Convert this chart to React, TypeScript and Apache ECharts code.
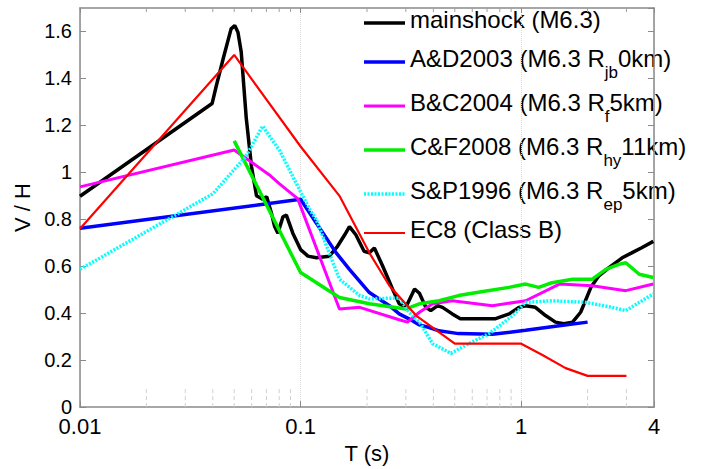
import React, { useEffect, useRef } from "react";
import * as echarts from "echarts";

// ---- data (period T in s, V/H ratio) ----
const mainshock: [number, number][] = [
  [0.01, 0.898], [0.0397, 1.293], [0.0416, 1.373], [0.0446, 1.485], [0.0484, 1.611],
  [0.0503, 1.625], [0.052, 1.597], [0.0538, 1.513], [0.0567, 1.232], [0.0599, 1.025],
  [0.0631, 0.9], [0.0673, 0.885], [0.0702, 0.896], [0.0738, 0.825], [0.0762, 0.77],
  [0.0789, 0.741], [0.0832, 0.811], [0.0862, 0.818], [0.0922, 0.741], [0.1, 0.671],
  [0.108, 0.643], [0.118, 0.636], [0.135, 0.643], [0.147, 0.685], [0.1585, 0.734],
  [0.1665, 0.769], [0.178, 0.734], [0.194, 0.664], [0.205, 0.657], [0.216, 0.678],
  [0.2355, 0.601], [0.261, 0.503], [0.28, 0.44], [0.3, 0.425], [0.3286, 0.503],
  [0.3457, 0.485], [0.3695, 0.425], [0.389, 0.411], [0.418, 0.432], [0.44, 0.425],
  [0.487, 0.397], [0.53, 0.376], [0.62, 0.376], [0.76, 0.376], [0.882, 0.397],
  [0.979, 0.425], [1.047, 0.432], [1.16, 0.425], [1.29, 0.39], [1.43, 0.362],
  [1.56, 0.355], [1.71, 0.362], [1.86, 0.404], [2.07, 0.51], [2.25, 0.559],
  [2.5, 0.594], [2.87, 0.636], [3.17, 0.657], [3.5, 0.678], [3.97, 0.706],
];
const ad2003: [number, number][] = [
  [0.01, 0.762], [0.1, 0.885], [0.118, 0.783], [0.145, 0.657], [0.1665, 0.587],
  [0.205, 0.488], [0.2527, 0.432], [0.28, 0.397], [0.31, 0.376], [0.3457, 0.35],
  [0.383, 0.339], [0.424, 0.325], [0.52, 0.313], [0.74, 0.31], [1.047, 0.327],
  [1.43, 0.344], [2.0, 0.362],
];
const bc2004: [number, number][] = [
  [0.01, 0.938], [0.05, 1.095], [0.072, 0.99], [0.08, 0.952], [0.097, 0.888],
  [0.15, 0.418], [0.1855, 0.425], [0.28, 0.372], [0.305, 0.362], [0.3457, 0.404],
  [0.397, 0.44], [0.487, 0.453], [0.74, 0.432], [1.047, 0.453], [1.49, 0.524],
  [2.1, 0.517], [2.98, 0.496], [3.97, 0.524],
];
const cf2008: [number, number][] = [
  [0.05, 1.134], [0.1, 0.573], [0.15, 0.467], [0.205, 0.44], [0.3, 0.418],
  [0.3457, 0.44], [0.424, 0.453], [0.52, 0.475], [0.66, 0.491], [0.88, 0.51],
  [1.047, 0.524], [1.2, 0.51], [1.38, 0.53], [1.71, 0.545], [2.1, 0.545],
  [2.42, 0.587], [2.77, 0.608], [2.98, 0.615], [3.43, 0.566], [3.97, 0.552],
];
const sp1996: [number, number][] = [
  [0.01, 0.587], [0.0401, 0.909], [0.0567, 1.07], [0.0673, 1.197], [0.0804, 1.092],
  [0.0957, 0.952], [0.1103, 0.84], [0.118, 0.797], [0.15, 0.545], [0.1855, 0.475],
  [0.205, 0.461], [0.28, 0.465], [0.31, 0.404], [0.3457, 0.362], [0.397, 0.27],
  [0.48, 0.229], [0.58, 0.271], [0.716, 0.313], [0.917, 0.39], [1.047, 0.446],
  [1.38, 0.453], [1.97, 0.446], [2.58, 0.425], [2.98, 0.411], [3.97, 0.482],
];
const ec8: [number, number][] = [
  [0.01, 0.76], [0.05, 1.5], [0.1, 1.11], [0.15, 0.9], [0.205, 0.657],
  [0.2527, 0.517], [0.334, 0.39], [0.5, 0.27], [1, 0.27], [1.248, 0.222],
  [1.59, 0.166], [2, 0.133], [3, 0.133],
];

const seriesNames = [
  "mainshock (M6.3)",
  "A&D2003 (M6.3 Rjb0km)",
  "B&C2004 (M6.3 Rf5km)",
  "C&F2008 (M6.3 Rhy11km)",
  "S&P1996 (M6.3 Rep5km)",
  "EC8 (Class B)",
];
// legend text split into [before, subscript, after]
const legendParts: string[][] = [
  ["mainshock (M6.3)"],
  ["A&D2003 (M6.3 R", "jb", "0km)"],
  ["B&C2004 (M6.3 R", "f", "5km)"],
  ["C&F2008 (M6.3 R", "hy", "11km)"],
  ["S&P1996 (M6.3 R", "ep", "5km)"],
  ["EC8 (Class B)"],
];
const minorTicksT = [
  0.02, 0.03, 0.04, 0.05, 0.06, 0.07, 0.08, 0.09,
  0.2, 0.3, 0.4, 0.5, 0.6, 0.7, 0.8, 0.9, 2, 3,
];
const X_MIN = 0.01;
const X_MAX = 4;
const Y_MAX = 1.7;

// styles
const seriesColors = ["#000000", "#0000ff", "#ff00ff", "#00ee00", "#00ffff", "#ff0000"];
const seriesWidths = [3.5, 3.5, 3, 3.5, 3.5, 2.2];
const seriesDash: (number[] | null)[] = [null, null, null, null, [2, 1.5], null];
const legendRowY = [23, 62, 106, 150, 194, 233];

const FONT = "'Liberation Sans', Arial, Helvetica, sans-serif";
const AXIS_GRAY = "#8a8a8a";

export default function App() {
  const ref = useRef<HTMLDivElement>(null);
  useEffect(() => {
    document.body.style.margin = "0";
    const chart = echarts.init(ref.current!, null, { renderer: "svg" });
    const allData = [mainshock, ad2003, bc2004, cf2008, sp1996, ec8];
    const lineSeries = allData.map((data, i) => ({
      name: seriesNames[i],
      type: "line",
      data,
      showSymbol: false,
      symbol: "none",
      xAxisIndex: 0,
      yAxisIndex: 0,
      lineStyle: {
        color: seriesColors[i],
        width: seriesWidths[i],
        type: seriesDash[i] || "solid",
      },
      itemStyle: { color: seriesColors[i] },
      z: 3,
    }));
    const legendGraphics = seriesNames.map((_n, i) => {
      const parts = legendParts[i];
      const text =
        parts.length === 1
          ? `{m|${parts[0]}}`
          : `{m|${parts[0]}}{s|${parts[1]}}{m|${parts[2]}}`;
      const cy = legendRowY[i];
      return {
        type: "group",
        children: [
          {
            type: "line",
            shape: { x1: 364, y1: cy, x2: 405, y2: cy },
            style: {
              stroke: seriesColors[i],
              lineWidth: seriesWidths[i],
              lineDash: seriesDash[i] || null,
            },
          },
          {
            type: "text",
            x: 410,
            y: cy - 3.5,
            style: {
              text,
              fontSize: 24,
              fontFamily: FONT,
              fill: "#000",
              lineHeight: 28,
              verticalAlign: "middle",
              align: "left",
              rich: {
                m: { fontSize: 24, lineHeight: 28, fill: "#000", fontFamily: FONT },
                s: { fontSize: 17, lineHeight: 28, fill: "#000", fontFamily: FONT, padding: [28, 0, 0, 0] },
              },
            },
          },
        ],
      };
    });
    const fmtX = (v: number) => String(parseFloat(Number(v).toPrecision(4)));
    const option: any = {
      animation: false,
      textStyle: { fontFamily: FONT },
      grid: { left: 80, right: 50, top: 8, bottom: 56, containLabel: false },
      xAxis: [
        {
          type: "log",
          logBase: 10,
          min: X_MIN,
          max: X_MAX,
          name: "T (s)",
          nameLocation: "middle",
          nameGap: 30,
          nameTextStyle: { fontSize: 22, color: "#000", fontFamily: FONT },
          axisLine: { show: true, onZero: false, lineStyle: { color: AXIS_GRAY, width: 1.5 } },
          axisTick: { show: true, inside: true, length: 6, lineStyle: { color: AXIS_GRAY } },
          axisLabel: { fontSize: 22, color: "#000", margin: 8, formatter: fmtX, fontFamily: FONT },
          splitLine: { show: true, lineStyle: { color: "#d8d8d8", type: "dotted", width: 1 } },
        },
        {
          type: "log",
          logBase: 10,
          min: X_MIN,
          max: X_MAX,
          position: "top",
          axisLine: { show: true, onZero: false, lineStyle: { color: AXIS_GRAY, width: 1.5 } },
          axisTick: { show: true, inside: true, length: 5, lineStyle: { color: AXIS_GRAY } },
          axisLabel: { show: false },
          splitLine: { show: false },
        },
      ],
      yAxis: [
        {
          type: "value",
          min: 0,
          max: Y_MAX,
          interval: 0.2,
          name: "V / H",
          nameLocation: "middle",
          nameGap: 42,
          nameTextStyle: { fontSize: 22, color: "#000", fontFamily: FONT },
          axisLine: { show: true, onZero: false, lineStyle: { color: AXIS_GRAY, width: 1.5 } },
          axisTick: { show: true, inside: true, length: 6, lineStyle: { color: AXIS_GRAY } },
          axisLabel: {
            fontSize: 20,
            color: "#000",
            margin: 8,
            showMaxLabel: false,
            fontFamily: FONT,
            formatter: (v: number) => (Math.abs(v) < 1e-9 ? "0" : Math.abs(v - 1) < 1e-9 ? "1" : v.toFixed(1)),
          },
          splitLine: { show: false },
        },
        {
          type: "value",
          min: 0,
          max: Y_MAX,
          interval: 0.2,
          position: "right",
          axisLine: { show: true, onZero: false, lineStyle: { color: AXIS_GRAY, width: 1.5 } },
          axisTick: { show: true, inside: true, length: 6, lineStyle: { color: AXIS_GRAY } },
          axisLabel: { show: false },
          splitLine: { show: false },
        },
      ],
      graphic: legendGraphics,
      series: [
        {
          type: "custom",
          name: "minor ticks",
          silent: true,
          xAxisIndex: 0,
          yAxisIndex: 0,
          z: 1,
          data: minorTicksT.map((t) => [t, 0]),
          encode: { x: 0, y: 1 },
          renderItem: (_params: any, api: any) => {
            const T = api.value(0);
            const b = api.coord([T, 0]);
            const t = api.coord([T, Y_MAX]);
            return {
              type: "group",
              children: [
                {
                  type: "line",
                  shape: { x1: b[0], y1: b[1], x2: b[0], y2: b[1] - 21 },
                  style: { stroke: "#d0d0d0", lineWidth: 1, lineDash: [4, 3] },
                },
                {
                  type: "line",
                  shape: { x1: t[0], y1: t[1], x2: t[0], y2: t[1] + 4 },
                  style: { stroke: "#a0a0a0", lineWidth: 1 },
                },
              ],
            };
          },
        },
        ...lineSeries,
      ],
    };
    chart.setOption(option);
    return () => chart.dispose();
  }, []);
  return <div ref={ref} style={{ width: 704, height: 469 }} />;
}
